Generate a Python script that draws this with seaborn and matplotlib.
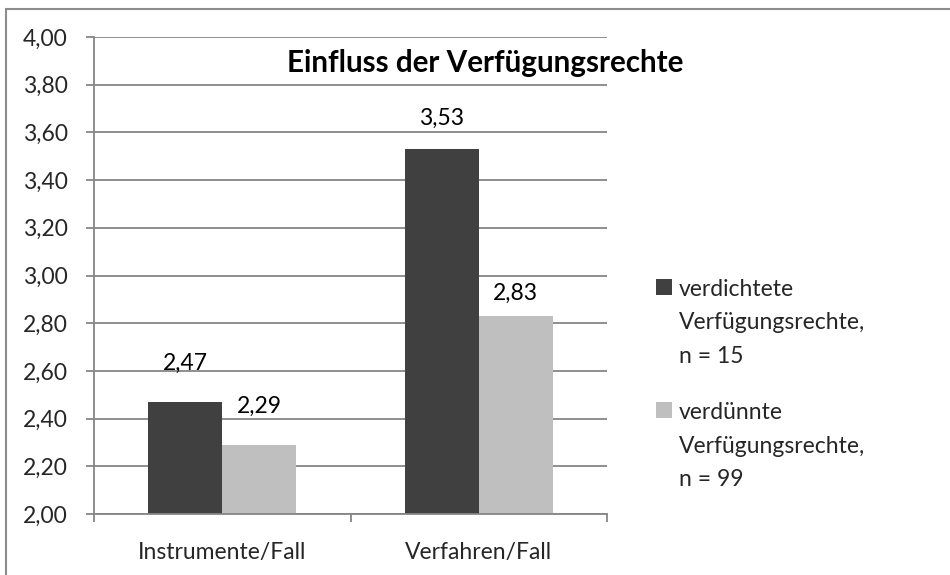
import matplotlib
matplotlib.use("Agg")
import matplotlib.pyplot as plt
import matplotlib.patches as mpatches
from matplotlib.ticker import FixedLocator, FuncFormatter, NullFormatter
from matplotlib.offsetbox import HPacker, VPacker
import seaborn as sns
import pandas as pd

categories = ["Instrumente/Fall", "Verfahren/Fall"]
series_names = ["verdichtete\nVerfügungsrechte,\nn = 15",
                "verdünnte\nVerfügungsrechte,\nn = 99"]
verdichtet = [2.47, 3.53]
verduennt = [2.29, 2.83]
title = "Einfluss der Verfügungsrechte"

sns.set_theme(style="white")
plt.rcParams['font.family'] = ['Lato', 'DejaVu Sans']

df = pd.DataFrame({
    "Kategorie": categories * 2,
    "Gruppe": [series_names[0]] * 2 + [series_names[1]] * 2,
    "Wert": verdichtet + verduennt,
})

colors = ["#404040", "#bfbfbf"]
grid_c = "#868686"
fs = 16.5

fig = plt.figure(figsize=(9.5, 5.75), dpi=100)
ax = fig.add_axes([94/950, 1-514/575, (607-94)/950, (514-37)/575])

sns.barplot(data=df, x="Kategorie", y="Wert", hue="Gruppe", palette=colors,
            width=0.576, gap=0, ax=ax, legend=False, saturation=1, linewidth=0)

ax.set_ylim(2.0, 4.0)
ax.set_xlim(-0.5, 1.5)
yt = [2.0 + 0.2*i for i in range(11)]
ax.set_yticks(yt)
ax.yaxis.set_major_formatter(FuncFormatter(lambda v, p: f"{v:.2f}".replace(".", ",")))
ax.yaxis.grid(True, color=grid_c, linewidth=1.3)
ax.set_axisbelow(True)
ax.tick_params(axis="y", length=6, width=1.3, color=grid_c, labelsize=fs, pad=13, left=True, direction="out")

ax.xaxis.set_major_locator(FixedLocator([-0.5, 0.5, 1.5]))
ax.xaxis.set_major_formatter(NullFormatter())
ax.xaxis.set_minor_locator(FixedLocator([0, 1]))
ax.set_xticklabels(categories, minor=True)
ax.tick_params(axis="x", which="major", length=6, width=1.3, color=grid_c, bottom=True, direction="out")
ax.tick_params(axis="x", which="minor", length=0, labelsize=fs, pad=20)
ax.set_xlabel("")
ax.set_ylabel("")
for s in ["top", "right"]:
    ax.spines[s].set_visible(False)
for s in ["left", "bottom"]:
    ax.spines[s].set_color(grid_c)
    ax.spines[s].set_linewidth(1.3)

# value labels (individual baseline offsets in px as in reference)
offsets = [[32, 24], [32, 16]]
for ci, cont in enumerate(ax.containers):
    for bi, bar in enumerate(cont):
        h = bar.get_height()
        ax.annotate(f"{h:.2f}".replace(".", ","),
                    (bar.get_x() + bar.get_width()/2, h),
                    xytext=(0, offsets[ci][bi]*0.72), textcoords="offset points",
                    ha="center", va="baseline", fontsize=fs, color="black")

ax.text(0.762, 0.945, title, transform=ax.transAxes, ha="center", va="center",
        fontsize=21.3, fontweight="bold", color="black")

handles = [mpatches.Patch(facecolor=c, edgecolor="none") for c in colors]
leg = fig.legend(handles, series_names, loc="upper left",
                 bbox_to_anchor=(656/950, 1-279/575), frameon=False,
                 fontsize=fs, handlelength=0.7, handleheight=0.7,
                 handletextpad=0.3, labelspacing=1.55, borderpad=0, borderaxespad=0)
for t in leg.get_texts():
    t.set_linespacing(1.73)

def set_top(box):
    for ch in box.get_children():
        if isinstance(ch, HPacker) and not isinstance(ch, VPacker):
            ch.align = "top"
        if hasattr(ch, "get_children"):
            set_top(ch)
set_top(leg._legend_handle_box)

fig.add_artist(mpatches.Rectangle((6/950, -0.1), 2, 1 - 9/575 + 0.1,
                                  transform=fig.transFigure, fill=False,
                                  edgecolor="#8c8c8c", linewidth=1.5))

fig.savefig("out.png", dpi=100)
